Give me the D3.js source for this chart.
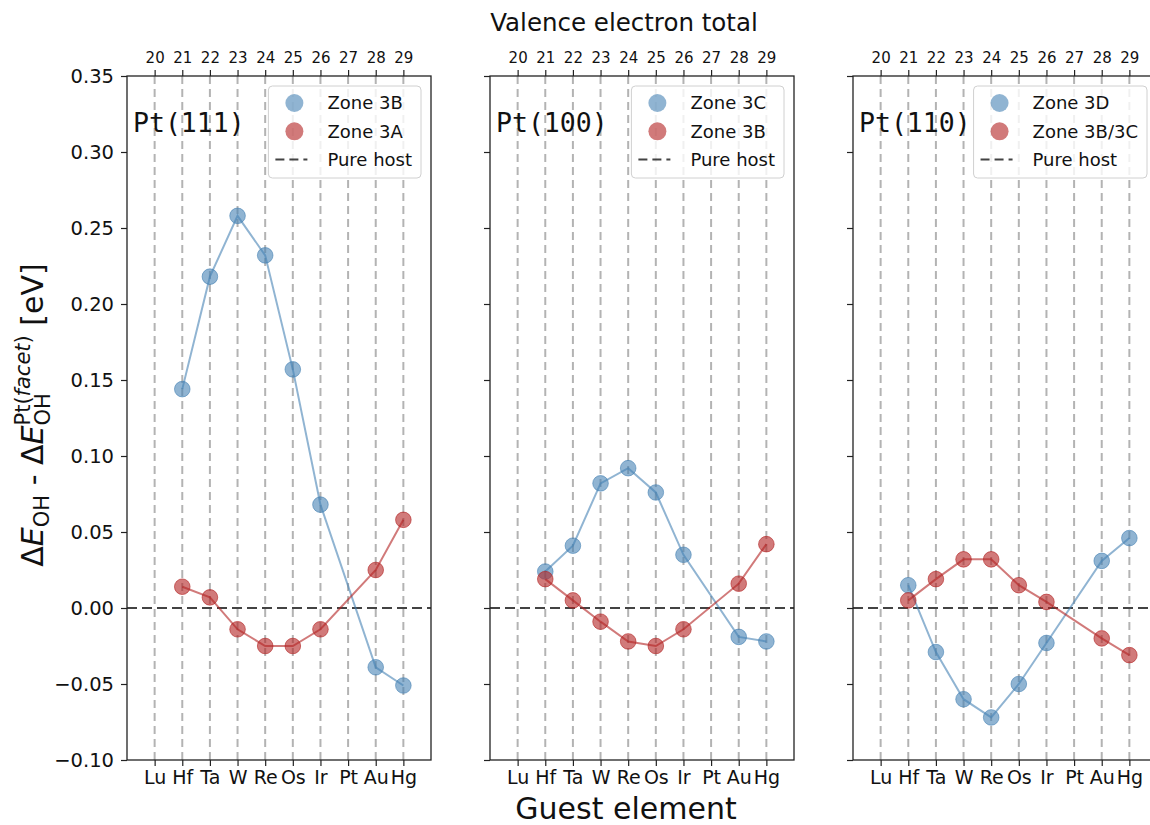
<!DOCTYPE html>
<html>
<head>
<meta charset="utf-8">
<script src="https://cdn.jsdelivr.net/npm/d3@7"></script>
<style>
  html, body { margin: 0; padding: 0; background: #fff; }
  svg { display: block; font-family: "DejaVu Sans", sans-serif; }
</style>
</head>
<body>
<svg id="chart" width="1150" height="825"></svg>
<script>
// Guest elements along the x axis and their valence electron totals
const categories = ["Lu", "Hf", "Ta", "W", "Re", "Os", "Ir", "Pt", "Au", "Hg"];
const valenceTotals = [20, 21, 22, 23, 24, 25, 26, 27, 28, 29];
const yTicks = [-0.10, -0.05, 0.00, 0.05, 0.10, 0.15, 0.20, 0.25, 0.30, 0.35];

const facets = ["Pt(111)", "Pt(100)", "Pt(110)"];
const blueLabels = ["Zone 3B", "Zone 3C", "Zone 3D"];
const redLabels = ["Zone 3A", "Zone 3B", "Zone 3B/3C"];
const hostLabel = "Pure host";

// ΔE_OH shifts (eV) per guest element; null = no calculation
const blue111 = [null, 0.144, 0.218, 0.258, 0.232, 0.157, 0.068, null, -0.039, -0.051];
const red111  = [null, 0.014, 0.007, -0.014, -0.025, -0.025, -0.014, null, 0.025, 0.058];
const blue100 = [null, 0.024, 0.041, 0.082, 0.092, 0.076, 0.035, null, -0.019, -0.022];
const red100  = [null, 0.019, 0.005, -0.009, -0.022, -0.025, -0.014, null, 0.016, 0.042];
const blue110 = [null, 0.015, -0.029, -0.060, -0.072, -0.050, -0.023, null, 0.031, 0.046];
const red110  = [null, 0.005, 0.019, 0.032, 0.032, 0.015, 0.004, null, -0.020, -0.031];

const blueSeries = [blue111, blue100, blue110];
const redSeries = [red111, red100, red110];

const BLUE = "#4682b4";
const RED = "#b22222";

const svg = d3.select("#chart");
const panelLefts = [127, 490, 853];
const panelW = 304;
const plotTop = 76, plotBottom = 760;

const y = d3.scaleLinear().domain([-0.10, 0.35]).range([plotBottom, plotTop]);

panelLefts.forEach((left, p) => {
  const x = d3.scaleLinear().domain([-1, 10]).range([left, left + panelW]);
  const g = svg.append("g");

  // clip to the panel area
  const clipId = "clip" + p;
  svg.append("clipPath").attr("id", clipId)
    .append("rect").attr("x", left).attr("y", plotTop).attr("width", panelW).attr("height", plotBottom - plotTop);
  const plot = g.append("g").attr("clip-path", `url(#${clipId})`);

  // vertical dashed guides at each element
  plot.selectAll("line.grid").data(d3.range(categories.length)).join("line")
    .attr("class", "grid")
    .attr("x1", d => x(d)).attr("x2", d => x(d))
    .attr("y1", plotTop).attr("y2", plotBottom)
    .attr("stroke", "#a0a0a0").attr("stroke-opacity", 0.8)
    .attr("stroke-width", 2).attr("stroke-dasharray", "8,5");

  // pure host reference line
  plot.append("line")
    .attr("x1", left).attr("x2", left + panelW)
    .attr("y1", y(0)).attr("y2", y(0))
    .attr("stroke", "#222").attr("stroke-opacity", 0.85)
    .attr("stroke-width", 2).attr("stroke-dasharray", "10,5");

  const drawSeries = (vals, color) => {
    const pts = vals.map((v, i) => ({ i, v })).filter(d => d.v !== null);
    const line = d3.line().x(d => x(d.i)).y(d => y(d.v));
    plot.append("path").datum(pts)
      .attr("d", line).attr("fill", "none")
      .attr("stroke", color).attr("stroke-opacity", 0.6).attr("stroke-width", 2);
    plot.selectAll(null).data(pts).join("circle")
      .attr("cx", d => x(d.i)).attr("cy", d => y(d.v)).attr("r", 7.8)
      .attr("fill", color).attr("fill-opacity", 0.6)
      .attr("stroke", color).attr("stroke-opacity", 0.6).attr("stroke-width", 1);
  };
  drawSeries(blueSeries[p], BLUE);
  drawSeries(redSeries[p], RED);

  // axes
  const yAxis = d3.axisLeft(y).tickValues(yTicks).tickSize(6).tickPadding(7)
    .tickFormat(p === 0 ? d3.format(".2f") : () => "");
  const ya = g.append("g").attr("transform", `translate(${left},0)`).call(yAxis);

  const xAxis = d3.axisBottom(x).tickValues(d3.range(categories.length))
    .tickFormat(i => categories[i]).tickSize(6).tickPadding(5);
  const xa = g.append("g").attr("transform", `translate(0,${plotBottom})`).call(xAxis);

  const tAxis = d3.axisTop(x).tickValues(d3.range(valenceTotals.length))
    .tickFormat(i => valenceTotals[i]).tickSize(6).tickPadding(7);
  const ta = g.append("g").attr("transform", `translate(0,${plotTop})`).call(tAxis);

  [ya, xa, ta].forEach(a => {
    a.select(".domain").remove();
    a.selectAll(".tick line").attr("stroke", "#222").attr("stroke-width", 1.2);
    a.selectAll(".tick text").attr("fill", "#111").attr("font-family", "DejaVu Sans");
  });
  ya.selectAll(".tick text").attr("font-size", 19.5);
  xa.selectAll(".tick text").attr("font-size", 19);
  ta.selectAll(".tick text").attr("font-size", 15);

  // frame
  g.append("rect").attr("x", left).attr("y", plotTop).attr("width", panelW).attr("height", plotBottom - plotTop)
    .attr("fill", "none").attr("stroke", "#222").attr("stroke-width", 1.3);

  // facet label
  g.append("text").attr("x", left + 6).attr("y", 132)
    .attr("font-family", "DejaVu Sans Mono").attr("font-size", 26.5).attr("fill", "#111")
    .text(facets[p]);

  // legend
  const lg = g.append("g");
  const entries = [
    { kind: "dot", color: BLUE, label: blueLabels[p] },
    { kind: "dot", color: RED, label: redLabels[p] },
    { kind: "dash", label: hostLabel }
  ];
  const box = lg.append("rect").attr("rx", 4).attr("ry", 4)
    .attr("fill", "#fff").attr("fill-opacity", 0.8)
    .attr("stroke", "#d0d0d0").attr("stroke-width", 1);
  const items = lg.append("g");
  let maxW = 0;
  entries.forEach((e, k) => {
    const cy = 103 + k * 28.3;
    if (e.kind === "dot") {
      items.append("circle").attr("cx", 26).attr("cy", cy).attr("r", 9)
        .attr("fill", e.color).attr("fill-opacity", 0.6);
    } else {
      items.append("line").attr("x1", 7).attr("x2", 39).attr("y1", cy).attr("y2", cy)
        .attr("stroke", "#222").attr("stroke-opacity", 0.85)
        .attr("stroke-width", 2).attr("stroke-dasharray", "9,5");
    }
    const t = items.append("text").attr("x", 59).attr("y", cy).attr("dy", "0.35em")
      .attr("font-size", 18).attr("fill", "#111").text(e.label);
    maxW = Math.max(maxW, t.node().getComputedTextLength());
  });
  const boxW = 59 + maxW + 9;
  const boxLeft = left + panelW - 10 - boxW;
  box.attr("x", 0).attr("y", 86).attr("width", boxW).attr("height", 92);
  lg.attr("transform", `translate(${boxLeft},0)`);
});

// shared axis titles
svg.append("text").attr("x", 624).attr("y", 31).attr("text-anchor", "middle")
  .attr("font-size", 24.5).attr("fill", "#111").text("Valence electron total");
svg.append("text").attr("x", 626).attr("y", 819).attr("text-anchor", "middle")
  .attr("font-size", 30).attr("fill", "#111").text("Guest element");

// y axis title with sub/superscripts, laid out piece by piece
(function () {
  const base = 30, small = base * 0.7;
  const g = svg.append("g");
  const t = g.append("text").attr("fill", "#111").attr("font-size", base)
    .style("white-space", "pre");
  let cx = 0;
  const put = (str, opts = {}) => {
    const el = t.append("tspan").attr("x", cx).attr("y", opts.dy || 0)
      .attr("font-size", opts.size || base)
      .attr("font-style", opts.italic ? "italic" : "normal")
      .text(str);
    const w = el.node().getComputedTextLength();
    if (!opts.noAdvance) cx += w;
    return w;
  };
  put("Δ");
  put("E", { italic: true });
  put("OH", { size: small, dy: 6 });
  put("\u00a0-\u00a0");
  put("Δ");
  put("E", { italic: true });
  const start = cx;
  const wSub = put("OH", { size: small, dy: 7, noAdvance: true });
  let w2 = 0;
  cx = start;
  w2 += put("Pt(", { size: small, dy: -13 });
  w2 += put("facet", { size: small, dy: -13, italic: true });
  w2 += put(")", { size: small, dy: -13 });
  cx = start + Math.max(wSub, w2);
  put("\u00a0[eV]");
  const total = cx;
  g.attr("transform", `translate(43, ${415 + total / 2}) rotate(-90)`);
})();
</script>
</body>
</html>
